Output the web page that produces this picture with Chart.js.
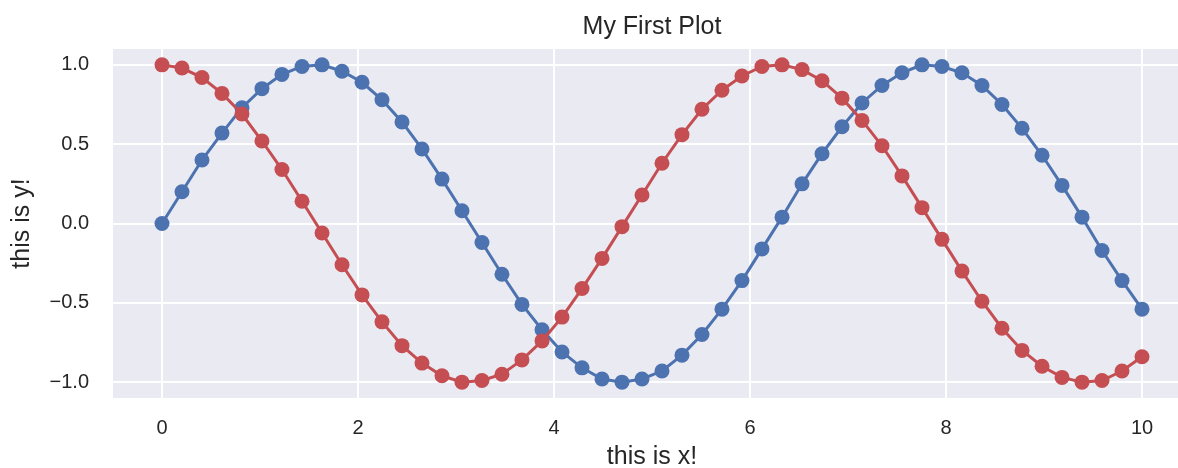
<!DOCTYPE html>
<html>
<head>
<meta charset="utf-8">
<script src="https://cdn.jsdelivr.net/npm/chart.js@4"></script>
<style>
  html, body { margin: 0; padding: 0; background: #fff; overflow: hidden; }
  /* the reference figure is cut off on the right, so the canvas runs past the window */
  #wrap { width: 1191px; height: 468px; }
</style>
</head>
<body>
<div id="wrap"><canvas id="plot"></canvas></div>
<script>
// data: 50 samples between 0 and 10
const xs = [0, 0.204, 0.408, 0.612, 0.816, 1.020, 1.224, 1.429, 1.633, 1.837,
    2.041, 2.245, 2.449, 2.653, 2.857, 3.061, 3.265, 3.469, 3.673, 3.878,
    4.082, 4.286, 4.490, 4.694, 4.898, 5.102, 5.306, 5.510, 5.714, 5.918,
    6.122, 6.327, 6.531, 6.735, 6.939, 7.143, 7.347, 7.551, 7.755, 7.959,
    8.163, 8.367, 8.571, 8.776, 8.980, 9.184, 9.388, 9.592, 9.796, 10];

const blueY = [0.00, 0.20, 0.40, 0.57, 0.73, 0.85, 0.94, 0.99, 1.00, 0.96,
    0.89, 0.78, 0.64, 0.47, 0.28, 0.08, -0.12, -0.32, -0.51, -0.67,
    -0.81, -0.91, -0.98, -1.00, -0.98, -0.93, -0.83, -0.70, -0.54, -0.36,
    -0.16, 0.04, 0.25, 0.44, 0.61, 0.76, 0.87, 0.95, 1.00, 0.99,
    0.95, 0.87, 0.75, 0.60, 0.43, 0.24, 0.04, -0.17, -0.36, -0.54];

const redY = [1.00, 0.98, 0.92, 0.82, 0.69, 0.52, 0.34, 0.14, -0.06, -0.26,
    -0.45, -0.62, -0.77, -0.88, -0.96, -1.00, -0.99, -0.95, -0.86, -0.74,
    -0.59, -0.41, -0.22, -0.02, 0.18, 0.38, 0.56, 0.72, 0.84, 0.93,
    0.99, 1.00, 0.97, 0.90, 0.79, 0.65, 0.49, 0.30, 0.10, -0.10,
    -0.30, -0.49, -0.66, -0.80, -0.90, -0.97, -1.00, -0.99, -0.93, -0.84];

const xTicks = [0, 2, 4, 6, 8, 10];
const yTicks = [-1, -0.5, 0, 0.5, 1];

const ink = '#262626';
const fontFamily = '"Liberation Sans", Arial, sans-serif';

function toPoints(ys) {
    return xs.map((x, i) => ({ x: x, y: ys[i] }));
}

const plotBackground = {
    id: 'plotBackground',
    beforeDraw(chart) {
        const { ctx, chartArea: a } = chart;
        ctx.save();
        ctx.fillStyle = '#EAEAF2';
        ctx.fillRect(a.left, a.top, a.right - a.left, a.bottom - a.top);
        ctx.restore();
    }
};

const plotCanvas = document.getElementById('plot');

let plotChart = new Chart(plotCanvas, {
    type: 'line',
    data: {
        datasets: [{
            data: toPoints(blueY),
            borderColor: '#4C72B0',
            backgroundColor: '#4C72B0',
            borderWidth: 3,
            pointRadius: 7.5,
            pointBorderWidth: 0,
            order: 1
        }, {
            data: toPoints(redY),
            borderColor: '#C44E52',
            backgroundColor: '#C44E52',
            borderWidth: 3,
            pointRadius: 7.5,
            pointBorderWidth: 0,
            order: 0
        }]
    },
    options: {
        responsive: true,
        maintainAspectRatio: false,
        animation: false,
        clip: false,
        layout: { padding: 0, autoPadding: false },
        plugins: {
            legend: { display: false },
            tooltip: { enabled: false },
            title: {
                display: true,
                fullSize: false,
                text: 'My First Plot',
                color: ink,
                font: { family: fontFamily, size: 25, weight: 'normal' },
                padding: { top: 12, bottom: 7 }
            }
        },
        scales: {
            x: {
                type: 'linear',
                min: -0.5,
                max: 10.5,
                afterBuildTicks: (scale) => { scale.ticks = xTicks.map(v => ({ value: v })); },
                afterFit: (scale) => { scale.height = 70; },
                grid: { color: '#ffffff', lineWidth: 2, drawTicks: false },
                border: { display: false },
                ticks: {
                    color: ink,
                    padding: 18,
                    font: { family: fontFamily, size: 20 },
                    callback: (v) => String(v)
                },
                title: {
                    display: true,
                    text: 'this is x!',
                    color: ink,
                    font: { family: fontFamily, size: 25, lineHeight: 1 },
                    padding: { top: 0, bottom: -2 }
                }
            },
            y: {
                min: -1.1,
                max: 1.1,
                afterBuildTicks: (scale) => { scale.ticks = yTicks.map(v => ({ value: v })); },
                afterFit: (scale) => { scale.width = 113; },
                grid: { color: '#ffffff', lineWidth: 2, drawTicks: false },
                border: { display: false },
                ticks: {
                    color: ink,
                    padding: 24,
                    font: { family: fontFamily, size: 20 },
                    callback: (v) => (v < 0 ? '\u2212' : '') + Math.abs(v).toFixed(1)
                },
                title: {
                    display: true,
                    text: 'this is y!',
                    color: ink,
                    font: { family: fontFamily, size: 25, lineHeight: 1 },
                    padding: { top: 10, bottom: 0 }
                }
            }
        }
    },
    plugins: [plotBackground]
});
</script>
</body>
</html>
